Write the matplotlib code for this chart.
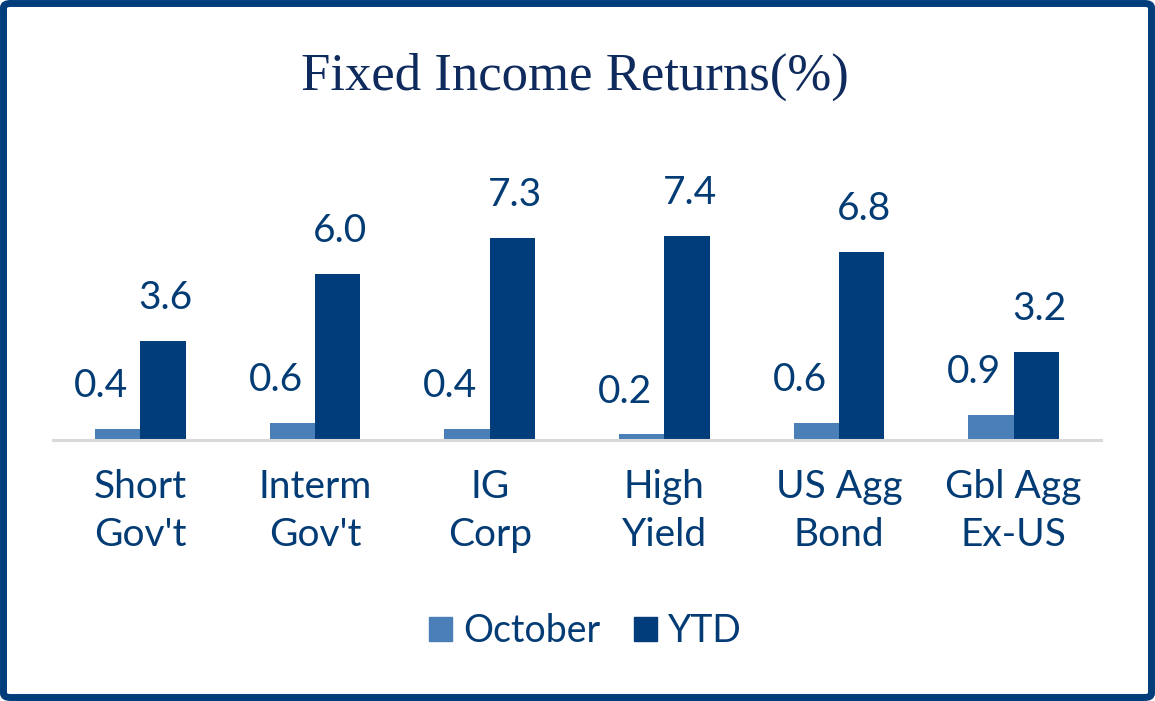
import matplotlib.pyplot as plt
import numpy as np
from matplotlib.patches import FancyBboxPatch, Patch

# Data
categories = ["Short\nGov't", "Interm\nGov't", "IG\nCorp", "High\nYield", "US Agg\nBond", "Gbl Agg\nEx-US"]
october = [0.4, 0.6, 0.4, 0.2, 0.6, 0.9]
ytd = [3.6, 6.0, 7.3, 7.4, 6.8, 3.2]
series_names = ["October", "YTD"]

light_blue = "#4a7fb7"
navy = "#003d7a"
text_col = "#033c75"
title_col = "#0f2a5c"

plt.rcParams["font.family"] = ["Lato", "DejaVu Sans"]

fig = plt.figure(figsize=(11.55, 7.01), dpi=100)

# axes placed so that the baseline sits where the reference has it
W, H = 1155, 701
ax = fig.add_axes([53 / W, (H - 440) / H, 1048 / W, 221 / H])

x = np.arange(len(categories))
w = 0.26
b1 = ax.bar(x - w / 2, october, w, color=light_blue, label=series_names[0])
b2 = ax.bar(x + w / 2, ytd, w, color=navy, label=series_names[1])

ax.set_xlim(-0.5, len(categories) - 0.5)
ax.set_ylim(0, 8)

# value labels
for rect, v in zip(b1, october):
    ax.annotate(f"{v:.1f}", (rect.get_x() + rect.get_width() / 2, v),
                xytext=(-12, 23), textcoords="offset points",
                ha="center", va="baseline", fontsize=28, color=text_col)
for rect, v in zip(b2, ytd):
    ax.annotate(f"{v:.1f}", (rect.get_x() + rect.get_width() / 2, v),
                xytext=(2, 23), textcoords="offset points",
                ha="center", va="baseline", fontsize=28, color=text_col)

ax.set_xticks(x)
ax.set_xticklabels(categories, fontsize=28, color=text_col, linespacing=1.42)
ax.tick_params(axis="x", length=0, pad=21)
ax.set_yticks([])
for s in ["top", "right", "left"]:
    ax.spines[s].set_visible(False)
ax.spines["bottom"].set_color("#d9d9d9")
ax.spines["bottom"].set_linewidth(2.2)

# title
fig.text(0.498, 0.891, "Fixed Income Returns(%)", ha="center", va="center",
         fontsize=38, color=title_col, family=["Liberation Serif", "DejaVu Serif"])

# legend
handles = [Patch(color=light_blue, label=series_names[0]),
           Patch(color=navy, label=series_names[1])]
fig.legend(handles=handles, loc="center", bbox_to_anchor=(0.507, 0.1),
           ncol=2, frameon=False, fontsize=27, labelcolor=text_col,
           handlelength=0.6, handleheight=0.6, handletextpad=0.3,
           columnspacing=0.9)

# outer frame
frame = FancyBboxPatch((3.5 / W, 3.5 / H), 1 - 7 / W, 1 - 7 / H,
                       boxstyle="round,pad=0,rounding_size=0.006",
                       transform=fig.transFigure, fill=False,
                       edgecolor=navy, linewidth=5.0)
fig.patches.append(frame)

fig.savefig("out.png", dpi=100)
